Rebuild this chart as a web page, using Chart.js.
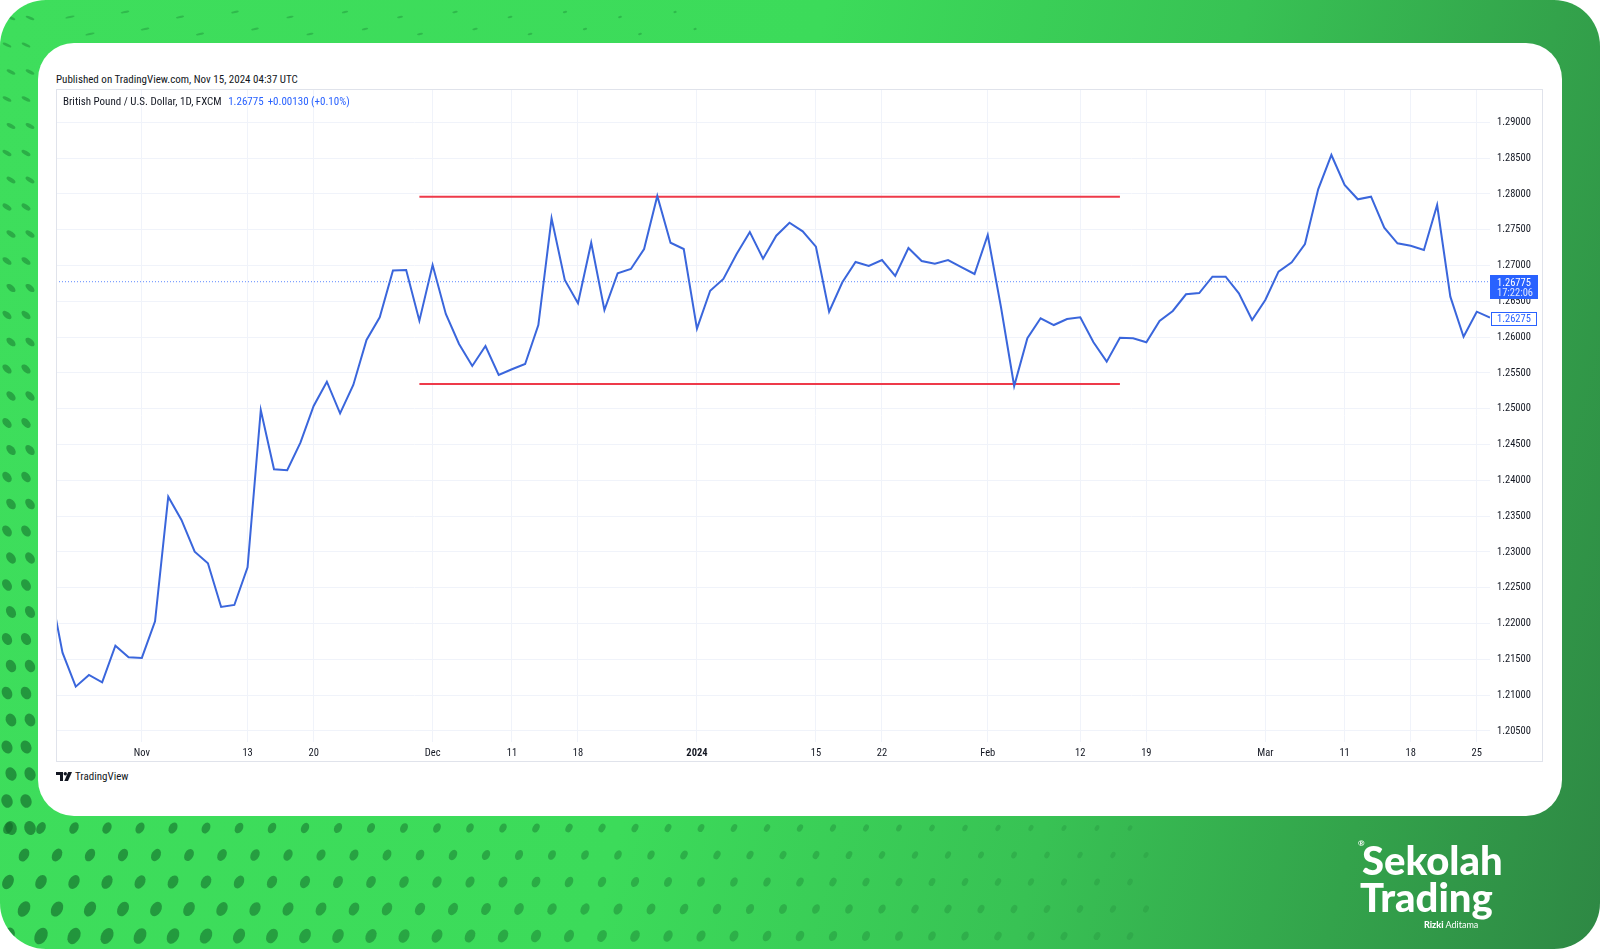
<!DOCTYPE html>
<html>
<head>
<meta charset="utf-8">
<script src="https://cdn.jsdelivr.net/npm/chart.js@4.4.1/dist/chart.umd.min.js"></script>
<style>
  html, body { margin: 0; padding: 0; background: #fff; }
  body { width: 1600px; height: 949px; position: relative; overflow: hidden; }
  #bg {
    position: absolute; left: 0; top: 0; width: 1600px; height: 949px; border-radius: 46px; overflow: hidden;
    background: linear-gradient(104deg, #3ede5c 0%, #3cdb5a 45%, #38c254 68%, #33a34b 85%, #2e8844 100%);
  }
  #dots { position: absolute; left: 0; top: 0; }
  #card { position: absolute; left: 38px; top: 43px; width: 1524px; height: 773px; background: #fff; border-radius: 36px; }
  .tv { font-family: 'Liberation Sans Narrow', 'Roboto Condensed', 'Liberation Sans', sans-serif; color: #131722; }
  #published { position: absolute; left: 56px; top: 73px; font-size: 11px; white-space: nowrap; }
  #legend { position: absolute; left: 63px; top: 95px; font-size: 11px; white-space: nowrap; }
  #legend .val { color: #2962ff; margin-left: 4px; }
  #chartWrap { position: absolute; left: 56px; top: 89px; width: 1487px; height: 673px; }
  #frame { position: absolute; left: 56px; top: 89px; width: 1487px; height: 673px; border: 1px solid #e0e3eb; box-sizing: border-box; pointer-events: none; }
  #tvlogo { position: absolute; left: 56px; top: 770px; font-size: 11px; white-space: nowrap; display: flex; align-items: center; }
  #tvlogo svg { margin-right: 3px; }
  #brand { position: absolute; left: 1358px; top: 836px; color: #fff; font-family: Lato, 'Open Sans', sans-serif; font-weight: 900; }
  #brand .l1 { position: absolute; left: 4px; top: 0; font-size: 40px; letter-spacing: 0; white-space: nowrap; }
  #brand .l2 { position: absolute; left: 2px; top: 37px; font-size: 40px; letter-spacing: 0; white-space: nowrap; }
  #brand .reg { position: absolute; left: 0; top: 2px; font-size: 8px; font-weight: 700; }
  #brand .sub { position: absolute; left: 66px; top: 83px; font-size: 9px; font-weight: 400; white-space: nowrap; }
  #brand .sub b { font-weight: 900; }
</style>
</head>
<body>
<div id="bg"><canvas id="dots" width="1600" height="949"></canvas></div>
<div id="card"></div>
<div id="published" class="tv">Published on TradingView.com, Nov 15, 2024 04:37 UTC</div>
<div id="chartWrap"><canvas id="chart"></canvas></div>
<div id="frame"></div>
<div id="legend" class="tv">British Pound / U.S. Dollar, 1D, FXCM <span class="val">1.26775</span><span class="val">+0.00130 (+0.10%)</span></div>
<div id="tvlogo" class="tv">
  <svg width="16" height="9" viewBox="0 0 16 9"><path d="M0 0h7v9H4V3H0z" fill="#131722"/><circle cx="9.3" cy="1.7" r="1.7" fill="#131722"/><path d="M12.2 0H16l-4 9H8.3z" fill="#131722"/></svg>
  TradingView
</div>
<div id="brand">
  <span class="reg">®</span>
  <span class="l1">Sekolah</span>
  <span class="l2">Trading</span>
  <span class="sub"><b>Rizki</b> Aditama</span>
</div>

<script>
// GBP/USD daily closes (FXCM)
const dates = [
  '2023-10-23','2023-10-24','2023-10-25','2023-10-26','2023-10-27','2023-10-30','2023-10-31',
  '2023-11-01','2023-11-02','2023-11-03','2023-11-06','2023-11-07','2023-11-08','2023-11-09','2023-11-10',
  '2023-11-13','2023-11-14','2023-11-15','2023-11-16','2023-11-17','2023-11-20','2023-11-21','2023-11-22',
  '2023-11-23','2023-11-24','2023-11-27','2023-11-28','2023-11-29','2023-11-30',
  '2023-12-01','2023-12-04','2023-12-05','2023-12-06','2023-12-07','2023-12-08','2023-12-11','2023-12-12',
  '2023-12-13','2023-12-14','2023-12-15','2023-12-18','2023-12-19','2023-12-20','2023-12-21','2023-12-22',
  '2023-12-26','2023-12-27','2023-12-28','2023-12-29',
  '2024-01-02','2024-01-03','2024-01-04','2024-01-05','2024-01-08','2024-01-09','2024-01-10','2024-01-11',
  '2024-01-12','2024-01-15','2024-01-16','2024-01-17','2024-01-18','2024-01-19','2024-01-22','2024-01-23',
  '2024-01-24','2024-01-25','2024-01-26','2024-01-29','2024-01-30','2024-01-31',
  '2024-02-01','2024-02-02','2024-02-05','2024-02-06','2024-02-07','2024-02-08','2024-02-09','2024-02-12',
  '2024-02-13','2024-02-14','2024-02-15','2024-02-16','2024-02-19','2024-02-20','2024-02-21','2024-02-22',
  '2024-02-23','2024-02-26','2024-02-27','2024-02-28','2024-02-29',
  '2024-03-01','2024-03-04','2024-03-05','2024-03-06','2024-03-07','2024-03-08','2024-03-11','2024-03-12',
  '2024-03-13','2024-03-14','2024-03-15','2024-03-18','2024-03-19','2024-03-20','2024-03-21','2024-03-22',
  '2024-03-25','2024-03-26'
];

const closeValues = [
  1.22549, 1.21594, 1.21119, 1.21282, 1.21180, 1.21691, 1.21529,
  1.21520, 1.22032, 1.23772, 1.23447, 1.23004, 1.22842, 1.22232, 1.22260,
  1.22786, 1.24983, 1.24155, 1.24141, 1.24527, 1.25039, 1.25378, 1.24937,
  1.25332, 1.25961, 1.26277, 1.26933, 1.26939, 1.26230,
  1.27008, 1.26324, 1.25905, 1.25598, 1.25877, 1.25472, 1.25552, 1.25626,
  1.26170, 1.27661, 1.26799, 1.26473, 1.27320, 1.26380, 1.26892, 1.26953,
  1.27232, 1.27972, 1.27320, 1.27232,
  1.26119, 1.26649, 1.26813, 1.27162, 1.27469, 1.27096, 1.27418, 1.27599,
  1.27479, 1.27264, 1.26356, 1.26767, 1.27050, 1.26994, 1.27078, 1.26855,
  1.27246, 1.27064, 1.27027, 1.27078, 1.26980, 1.26883,
  1.27427, 1.26422, 1.25318, 1.25985, 1.26264, 1.26170, 1.26254, 1.26278,
  1.25929, 1.25658, 1.25993, 1.25985, 1.25929, 1.26226, 1.26366, 1.26599,
  1.26617, 1.26845, 1.26845, 1.26613, 1.26240,
  1.26520, 1.26915, 1.27046, 1.27302, 1.28066, 1.28545, 1.28126, 1.27926,
  1.27962, 1.27529, 1.27311, 1.27278, 1.27218, 1.27846, 1.26566, 1.26007,
  1.26356, 1.26275
];

// range lines drawn on the chart (start date, end date, level)
const rangeTop = { from: '2023-11-30', to: '2024-02-15', level: 1.27962 };
const rangeBottom = { from: '2023-11-30', to: '2024-02-15', level: 1.25347 };

const currentPrice = 1.26775;
const countdown = '17:22:06';

// time axis labels
const xTickDates = ['2023-11-01','2023-11-13','2023-11-20','2023-12-01','2023-12-11','2023-12-18','2024-01-02',
  '2024-01-15','2024-01-22','2024-02-01','2024-02-12','2024-02-19','2024-03-01','2024-03-11','2024-03-18','2024-03-25'];
const xTickLabels = ['Nov','13','20','Dec','11','18','2024','15','22','Feb','12','19','Mar','11','18','25'];

// visible window
const xMin = 0.507, xMax = 109;
const yMin = 1.20346, yMax = 1.294665;

const FONT = "'Liberation Sans Narrow', 'Roboto Condensed', 'Liberation Sans', sans-serif";
const GRID = '#f0f3fa';
const idx = d => dates.indexOf(d);
const xTickIdx = xTickDates.map(idx);

const linePoints = closeValues.map((v, i) => ({ x: i, y: v }));
const seg = r => [{ x: idx(r.from), y: r.level }, { x: idx(r.to), y: r.level }];

const noPad = s => { s.paddingTop = 0; s.paddingBottom = 0; s.paddingLeft = 0; s.paddingRight = 0; };

const priceTags = {
  id: 'priceTags',
  afterDraw(chart) {
    const { ctx, chartArea } = chart;
    const y = chart.scales.y;
    const right = chartArea.right;
    ctx.save();
    ctx.font = '10.5px ' + FONT;
    ctx.textBaseline = 'middle';
    ctx.textAlign = 'left';

    // last bar value
    const last = closeValues[closeValues.length - 1];
    const yl = Math.round(y.getPixelForValue(last)) + 0.5;
    ctx.fillStyle = '#fff';
    ctx.fillRect(right + 1, yl - 6, 45, 13);
    ctx.strokeStyle = '#2962ff';
    ctx.lineWidth = 1;
    ctx.strokeRect(right + 1.5, yl - 6, 45, 13);
    ctx.fillStyle = '#2962ff';
    ctx.fillText(last.toFixed(5), right + 7, yl + 0.5);

    // live price tag
    const yc = Math.round(y.getPixelForValue(currentPrice));
    ctx.fillStyle = '#2962ff';
    ctx.fillRect(right, yc - 7, 48, 24);
    ctx.fillStyle = '#fff';
    ctx.fillText(currentPrice.toFixed(5), right + 7, yc + 1.5);
    ctx.fillStyle = 'rgba(255,255,255,0.85)';
    ctx.fillText(countdown, right + 7, yc + 11.5);
    ctx.restore();
  }
};

new Chart(document.getElementById('chart'), {
  type: 'line',
  data: {
    datasets: [
      {
        data: linePoints, borderColor: '#3a66dc', borderWidth: 2, pointRadius: 0,
        tension: 0, clip: 0, order: 1
      },
      {
        data: [{ x: xMin, y: currentPrice }, { x: xMax, y: currentPrice }],
        borderColor: 'rgba(41,98,255,0.75)', borderWidth: 1, borderDash: [1, 2], pointRadius: 0, order: 3
      },
      {
        data: seg(rangeTop), borderColor: '#ee3a4a', borderWidth: 2, pointRadius: 0, order: 2
      },
      {
        data: seg(rangeBottom), borderColor: '#ee3a4a', borderWidth: 2, pointRadius: 0, order: 2
      }
    ]
  },
  options: {
    responsive: true,
    maintainAspectRatio: false,
    animation: false,
    layout: { padding: 0 },
    plugins: { legend: { display: false }, tooltip: { enabled: false } },
    scales: {
      x: {
        type: 'linear', min: xMin, max: xMax,
        afterBuildTicks: s => { s.ticks = xTickIdx.map(v => ({ value: v })); },
        afterFit: s => { s.height = 20; noPad(s); },
        grid: { color: GRID, drawTicks: false },
        border: { display: false },
        ticks: {
          autoSkip: false, maxRotation: 0, padding: 5, color: '#131722',
          font: c => ({ family: FONT, size: 10.5, weight: xTickLabels[c.index] === '2024' ? 'bold' : 'normal' }),
          callback: (v, i) => xTickLabels[i]
        }
      },
      y: {
        position: 'right', min: yMin, max: yMax,
        afterFit: s => { s.width = 53; noPad(s); },
        grid: { color: GRID, drawTicks: false },
        border: { display: false },
        ticks: {
          stepSize: 0.005, includeBounds: false, autoSkip: false, padding: 7, color: '#131722',
          font: { family: FONT, size: 10.5 },
          callback: v => v.toFixed(5)
        }
      }
    }
  },
  plugins: [priceTags]
});

// decorative dot pattern on the green frame
const dc = document.getElementById('dots').getContext('2d');
function dot(x, y, rx, ry, rot, a) {
  dc.fillStyle = 'rgba(18,105,42,' + a + ')';
  dc.beginPath();
  dc.ellipse(x, y, rx, ry, rot, 0, Math.PI * 2);
  dc.fill();
}
// left strip
for (let y = 18; y < 830; y += 27) {
  const t = y / 830;
  for (let c = 0; c < 2; c++) {
    const x = 7 + c * 19 + (y % 54 === 18 ? 4 : 0);
    dot(x, y, 1.2 + 4.5 * t, 4.5 + 2.5 * t, -1.2 + 0.9 * t, 0.35 + 0.3 * t);
  }
}
// top strip
for (let x = 70; x < 700; x += 55) {
  for (let r = 0; r < 2; r++) {
    const y = 12 + r * 17 + (x % 110 === 70 ? 5 : 0);
    dot(x + r * 20, y, 5 - x / 200, 1.1, -0.2, 0.3);
  }
}
// bottom strip
for (let r = 0; r < 5; r++) {
  const y = 828 + r * 27;
  for (let x = 8 + (r % 2) * 16; x < 1150; x += 33) {
    const t = Math.max(0, 1 - x / 1150);
    const s = 0.45 + 0.55 * t;
    dot(x, y, 5.5 * s * (0.8 + r * 0.08), 8 * s * (0.8 + r * 0.08), 0.5, 0.15 + 0.5 * t);
  }
}
</script>
</body>
</html>
